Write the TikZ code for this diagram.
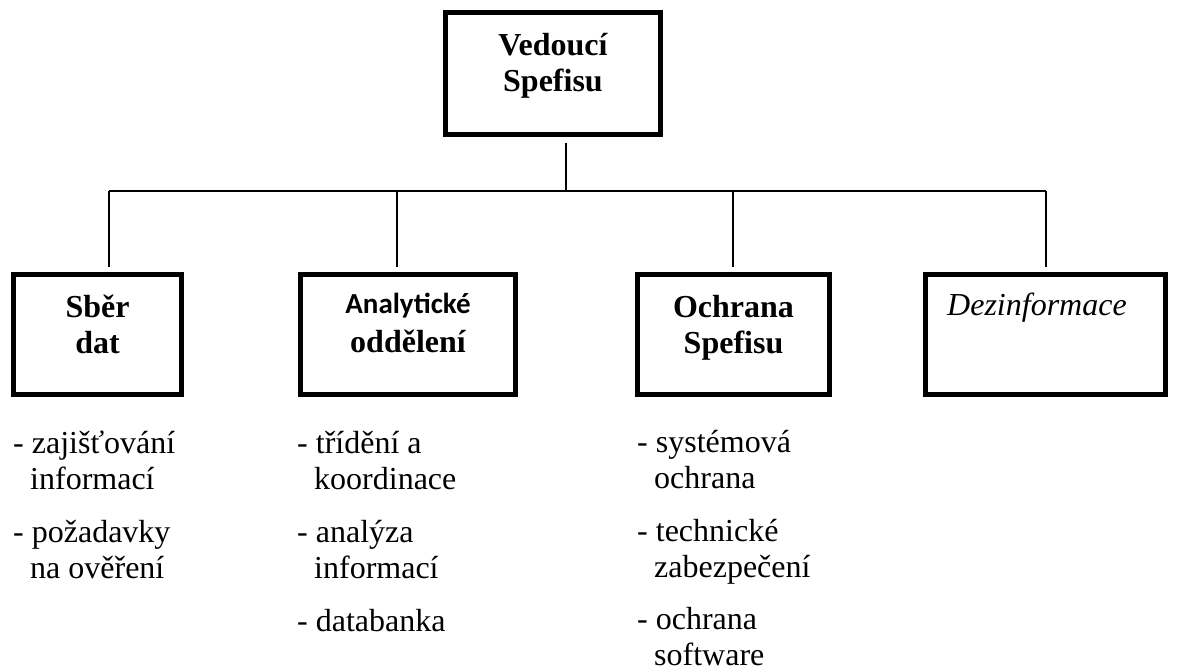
\documentclass[tikz,border=0pt]{standalone}
\usepackage{fontspec}
\setmainfont{Liberation Serif}
\newfontfamily\calibri{Carlito}
\usepackage{tikz}
\usetikzlibrary{positioning, calc}
\tikzstyle{unit} = [draw=black, line width=5pt, minimum height=120pt, inner sep=0pt]
\tikzstyle{unittext} = [align=center, font=\bfseries\fontsize{32}{36}\selectfont, inner sep=0pt, anchor=base]
\tikzstyle{duties} = [align=left, font=\fontsize{32}{36}\selectfont, inner sep=0pt, anchor=base west]
\tikzstyle{line} = [line width=1.2pt]
\newcommand{\listcont}{\hspace*{17pt}}

\begin{document}
\begin{tikzpicture}[x=1pt,y=-1pt]
    \useasboundingbox (0,0) rectangle (1179,670);
    % vedeni (base = posledni radek)
    \node[unit, minimum width=215pt, minimum height=122pt] (boss) at (553,73.5) {};
    \node[unittext] (bosstext) at ([yshift=-81pt]boss.north) {Vedoucí\\Spefisu};
    % utvary
    \node[unit, minimum width=168pt] (sber) at (97.5,334) {};
    \node[unit, minimum width=215pt] (anal) at (408,334) {};
    \node[unit, minimum width=192pt] (ochr) at (733.5,334) {};
    \node[unit, minimum width=240pt] (dezi) at (1045.5,334) {};
    \node[unittext] (sbertext) at ([yshift=-82pt]sber.north) {Sběr\\dat};
    \node[unittext] (analtext) at ([yshift=-81pt]anal.north) {{\calibri\fontsize{29}{36}\selectfont Analytické}\\[3pt]oddělení};
    \node[unittext] (ochrtext) at ([yshift=-82pt]ochr.north) {Ochrana\\Spefisu};
    \node[duties, font=\itshape\fontsize{32}{36}\selectfont] (dezitext) at ([xshift=24pt,yshift=-44pt]dezi.north west) {Dezinformace};
    % spoje
    \coordinate (hub) at (566,191);
    \draw[line, shorten <=6pt] (boss.south -| hub) -- (hub);
    \foreach \n/\x in {sber/109, anal/397, ochr/733, dezi/1046} {
        \coordinate (tap-\n) at (\x,191);
        \draw[line, shorten >=5pt] (tap-\n) -- (tap-\n |- \n.north);
    }
    \draw[line] (tap-sber) -- (tap-dezi);
    % cinnosti (base = posledni radek)
    \node[duties] (sberlist) at (13,578) {- zajišťování\\\listcont informací\\[17pt]- požadavky\\\listcont na ověření};
    \node[duties] (anallist) at (297,631) {- třídění a\\\listcont koordinace\\[17pt]- analýza\\\listcont informací\\[17pt]- databanka};
    \node[duties] (ochrlist) at (637,665) {- systémová\\\listcont ochrana\\[17pt]- technické\\\listcont zabezpečení\\[16pt]- ochrana\\\listcont software};
\end{tikzpicture}
\end{document}
